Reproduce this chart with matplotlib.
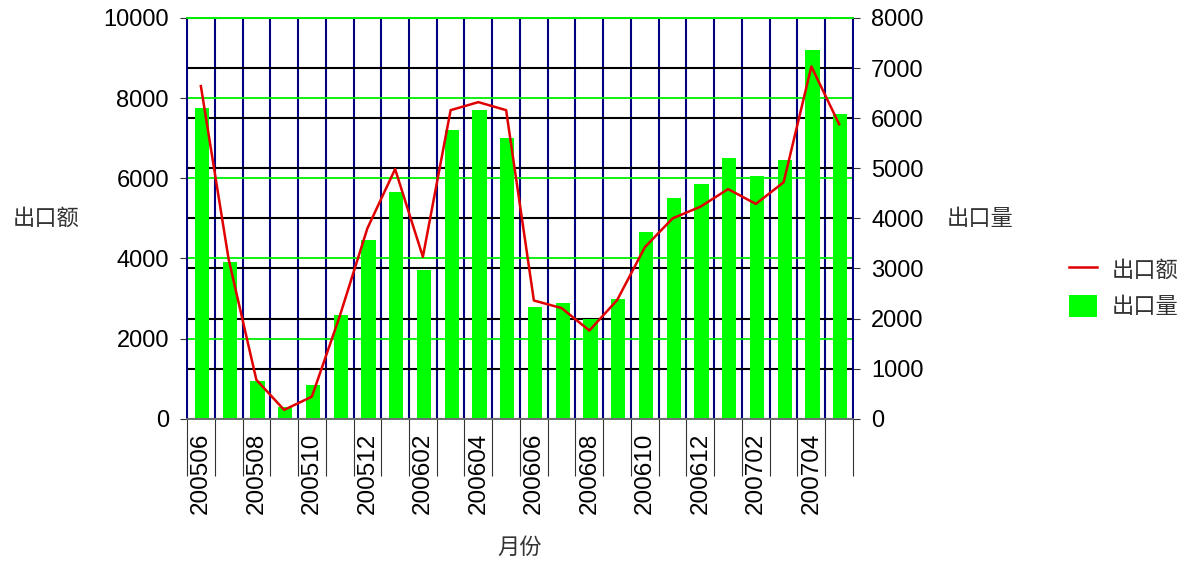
import matplotlib
matplotlib.use("Agg")
import matplotlib.pyplot as plt
import numpy as np
from matplotlib.lines import Line2D
from matplotlib.patches import Patch

months = ['200506', '200507', '200508', '200509', '200510', '200511',
          '200512', '200601', '200602', '200603', '200604', '200605',
          '200606', '200607', '200608', '200609', '200610', '200611',
          '200612', '200701', '200702', '200703', '200704', '200705']
# 出口量 (right axis, bars)
export_qty = [6200, 3120, 750, 240, 670, 2070, 3570, 4530, 2960, 5760, 6160, 5610,
              2240, 2310, 1990, 2390, 3720, 4400, 4690, 5200, 4850, 5160, 7360, 6080]
# 出口额 (left axis, line)
export_amt = [8300, 3980, 970, 220, 550, 2550, 4750, 6230, 4040, 7700, 7900, 7700,
              2950, 2760, 2200, 2960, 4280, 5000, 5290, 5730, 5360, 5900, 8790, 7350]
left_ticks = [0, 2000, 4000, 6000, 8000, 10000]
right_ticks = [0, 1000, 2000, 3000, 4000, 5000, 6000, 7000, 8000]

CJK = ['Noto Sans CJK SC', 'DejaVu Sans']
NUM = 'Liberation Sans'

W, H = 1187, 564
fig = plt.figure(figsize=(W / 100, H / 100), dpi=100)
l, r, b, t = 187 / W, 853 / W, (H - 418.7) / H, (H - 18) / H
ax = fig.add_axes([l, b, r - l, t - b])
ax.set_zorder(1)
ax2 = ax.twinx()
ax2.set_zorder(2)
ax2.patch.set_visible(False)
ax3 = ax.twinx()
ax3.set_zorder(3)
ax3.patch.set_visible(False)

x = np.arange(len(months))
n = len(months)

# left axis with green grid
ax.set_ylim(0, 10000)
ax.set_yticks(left_ticks)
ax.set_yticklabels([str(v) for v in left_ticks], fontname=NUM, fontsize=17)
ax.yaxis.grid(True, color='#00ee00', lw=1.3)
ax.set_axisbelow(True)
ax.set_xlim(-0.5, n - 0.5)
ax.set_xticks(x[::2])
ax.set_xticklabels(months[::2], rotation=90, fontname=NUM, fontsize=17.5)
ax.set_xticks(np.arange(-0.5, n, 1.0), minor=True)
ax.tick_params(axis='x', which='major', length=0, pad=10)
ax.tick_params(axis='x', which='minor', length=41, width=0.8, color='#333333')
ax.xaxis.grid(True, which='minor', color='#000080', lw=1.5)
ax.tick_params(axis='y', length=5, width=0.8, color='#333333', pad=8)

# right axis with bars and black grid
ax2.set_ylim(0, 8000)
ax2.set_yticks(right_ticks)
ax2.set_yticklabels([str(v) for v in right_ticks], fontname=NUM, fontsize=17)
ax2.yaxis.grid(True, color='black', lw=1.5)
ax2.set_axisbelow(True)
ax2.tick_params(axis='y', length=5, width=0.8, color='#333333', pad=8)
ax2.bar(x + 0.04, export_qty, width=0.52, color='#00ff00', zorder=2)

# line on top
ax3.set_ylim(0, 10000)
ax3.plot(x, export_amt, color='#e00000', lw=1.8, zorder=5)
ax3.set_yticks([])

for a in (ax, ax2, ax3):
    a.spines['left'].set_color('#000080')
    a.spines['right'].set_color('#000080')
    a.spines['top'].set_color('#00ee00')
    a.spines['bottom'].set_color('#707070')
    for s in a.spines.values():
        s.set_linewidth(1.3)

ax.set_ylabel('出口额', family=CJK, fontsize=16, color='#333333', rotation=0,
              fontweight='light', va='center', ha='center')
ax.yaxis.set_label_coords((46 - 187) / (853 - 187), 0.5)
ax2.set_ylabel('出口量', family=CJK, fontsize=16, color='#333333', rotation=0,
               fontweight='light', va='center', ha='center')
ax2.yaxis.set_label_coords((980 - 187) / (853 - 187), 0.5)
ax.set_xlabel('月份', family=CJK, fontsize=16, color='#333333', fontweight='light')
ax.xaxis.set_label_coords(0.5, -(547 - 418.7) / 400.7)
ax.xaxis.label.set_va('center')

handles = [Line2D([0], [0], color='#e00000', lw=1.8),
           Patch(facecolor='#00ff00', edgecolor='none')]
leg = fig.legend(handles, ['出口额', '出口量'], loc='center left',
                 bbox_to_anchor=(1049 / W, (H - 288) / H), frameon=False,
                 prop={'family': CJK, 'size': 16, 'weight': 'light'},
                 handlelength=1.25, handleheight=1.15, labelspacing=0.6,
                 handletextpad=0.65)
for txt in leg.get_texts():
    txt.set_color('#333333')

fig.savefig('out.png', dpi=100)
